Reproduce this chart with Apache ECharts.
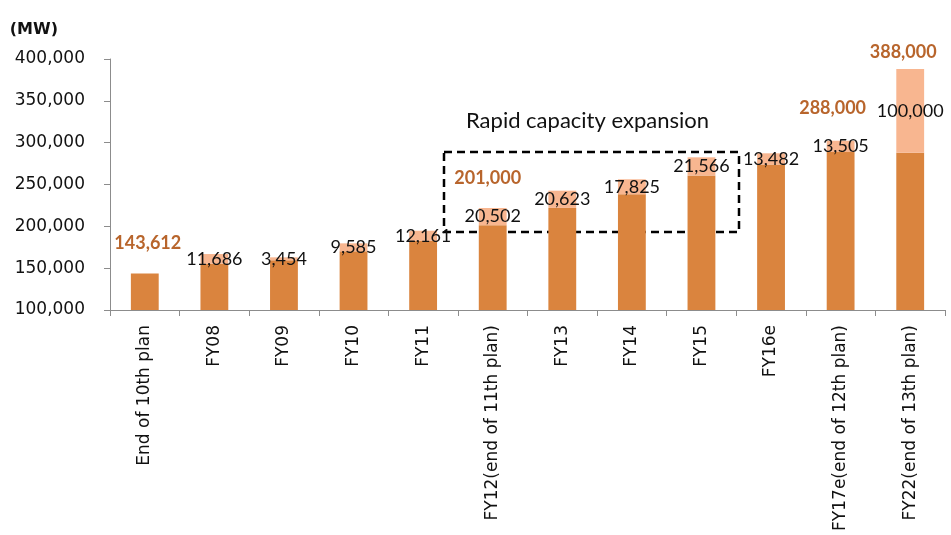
<!DOCTYPE html>
<html>
<head>
<meta charset="utf-8">
<script src="https://cdn.jsdelivr.net/npm/echarts@6/dist/echarts.min.js"></script>
<style>
html,body{margin:0;padding:0;background:#fff;}
#chart{width:951px;height:535px;}
</style>
</head>
<body>
<div id="chart"></div>
<script>
const categories = ['End of 10th plan','FY08','FY09','FY10','FY11','FY12(end of 11th plan)','FY13','FY14','FY15','FY16e','FY17e(end of 12th plan)','FY22(end of 13th plan)'];
const baseValues = [143612, 155200, 159500, 170100, 182600, 201400, 222000, 238400, 260900, 273800, 288800, 288000];
const addValues = [0, 11686, 3454, 9585, 12161, 20502, 20623, 17825, 21566, 13482, 13505, 100000];
const totalLabels = ['143,612','','','','','201,000','','','','','288,000','388,000'];
const yTicks = {min: 100000, max: 400000, interval: 50000};

const fmt = v => Number(v).toLocaleString('en-US');

// label placement tweaks (layout only)
const totalLabelLayout = {0: {dx: 3, d: 21}, 5: {dx: -5, d: 21}, 10: {dx: -8, d: 24}, 11: {dx: -7, d: 8}};

const chart = echarts.init(document.getElementById('chart'));
const axisGray = '#8c8c8c';
const darkOrange = '#DA843E';
const lightOrange = '#F8B690';

const totalData = categories.map((c, i) => {
  const lay = totalLabelLayout[i] || {dx: 0, d: 20};
  return {
    value: 0,
    label: {distance: lay.d, offset: [lay.dx, 0]}
  };
});

chart.setOption({
  animation: false,
  grid: {left: 110, right: 6, top: 59, bottom: 225, containLabel: false},
  xAxis: {
    type: 'category',
    data: categories,
    axisLine: {lineStyle: {color: axisGray, width: 1}},
    axisTick: {show: true, length: 6, alignWithLabel: false, lineStyle: {color: axisGray}},
    axisLabel: {
      interval: 0, rotate: 90, margin: 15,
      fontFamily: 'DejaVu Sans', fontSize: 17, color: '#111'
    }
  },
  yAxis: {
    type: 'value',
    min: yTicks.min, max: yTicks.max, interval: yTicks.interval,
    name: '(MW)',
    nameLocation: 'end',
    nameGap: 21,
    nameTextStyle: {fontFamily: 'DejaVu Sans', fontWeight: 'bold', fontSize: 16, color: '#111', align: 'right', verticalAlign: 'bottom', padding: [0, 52, 0, 0]},
    axisLine: {show: true, lineStyle: {color: axisGray, width: 1}},
    axisTick: {show: true, length: 6, lineStyle: {color: axisGray}},
    splitLine: {show: false},
    axisLabel: {margin: 25, fontFamily: 'DejaVu Sans', fontSize: 17, color: '#111', formatter: v => fmt(v)}
  },
  series: [
    {
      name: 'base', type: 'bar', stack: 's', stackStrategy: 'all', barWidth: '40%',
      itemStyle: {color: darkOrange},
      data: baseValues
    },
    {
      name: 'add', type: 'bar', stack: 's', stackStrategy: 'all', barWidth: '40%',
      itemStyle: {color: lightOrange},
      label: {
        show: true, position: 'inside',
        fontFamily: 'Lato', fontSize: 18, color: '#111',
        formatter: p => p.value ? fmt(p.value) : ''
      },
      data: addValues
    },
    {
      name: 'total', type: 'bar', stack: 's', stackStrategy: 'all', barWidth: '40%',
      itemStyle: {color: 'transparent'},
      label: {
        show: true, position: 'top',
        fontFamily: 'Lato', fontWeight: 'bold', fontSize: 18, color: '#B8652C',
        formatter: p => totalLabels[p.dataIndex]
      },
      data: totalData
    }
  ],
  graphic: [
    {
      type: 'rect',
      shape: {x: 444, y: 152, width: 295, height: 80},
      style: {fill: 'none', stroke: '#000', lineWidth: 2.5, lineDash: [8, 5]},
      silent: true
    },
    {
      type: 'text',
      left: 466, top: 110,
      style: {text: 'Rapid capacity expansion', fontFamily: 'Lato', fontSize: 22, fill: '#111'},
      silent: true
    }
  ]
});
</script>
</body>
</html>
